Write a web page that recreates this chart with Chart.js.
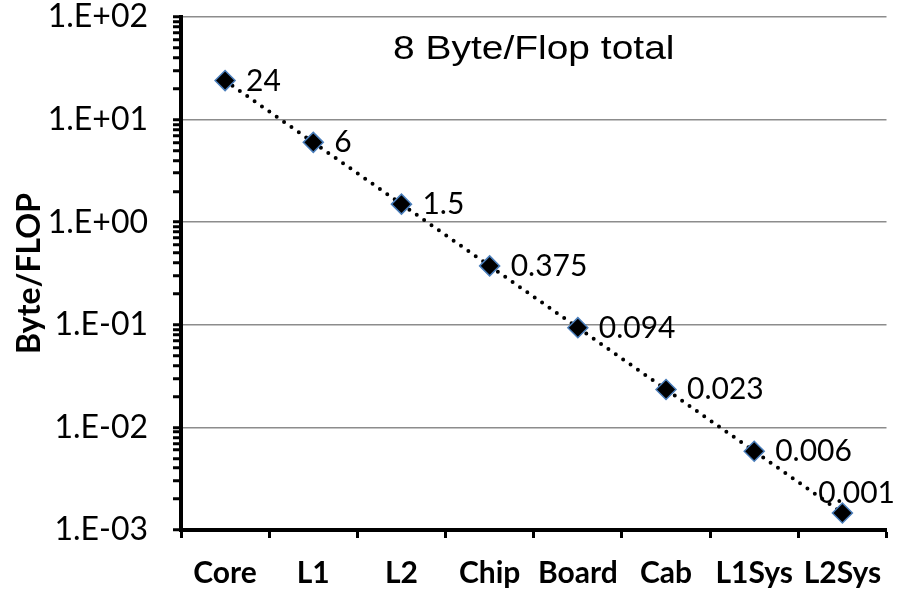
<!DOCTYPE html>
<html>
<head>
<meta charset="utf-8">
<script src="https://cdn.jsdelivr.net/npm/chart.js@4.4.1/dist/chart.umd.min.js"></script>
<style>
  html, body { margin: 0; padding: 0; background: #fff; }
  canvas { display: block; }
</style>
</head>
<body>
<canvas id="chart" width="898" height="593"></canvas>
<script>
// Memory hierarchy levels and the bandwidth available per flop at each level
const categories = ['Core', 'L1', 'L2', 'Chip', 'Board', 'Cab', 'L1Sys', 'L2Sys'];
const byteFlop = [24, 6, 1.5, 0.375, 0.09375, 0.0234375, 0.005859375, 0.00146484375];

// Decades shown on the logarithmic value axis
const decadeExponents = [-3, -2, -1, 0, 1, 2];

const chartTitle = '8 Byte/Flop total';
const yAxisTitle = 'Byte/FLOP';

function formatValue(v) {
  return v >= 1 ? String(v) : v.toFixed(3);
}

function isDecade(v) {
  const l = Math.log10(v);
  return Math.abs(l - Math.round(l)) < 1e-9;
}

function formatDecade(v) {
  const e = Math.round(Math.log10(v));
  return '1.E' + (e < 0 ? '-' : '+') + String(Math.abs(e)).padStart(2, '0');
}

// Major ticks at each decade plus minor ticks 2..9 inside it
function buildLogTicks() {
  const ticks = [];
  const lo = Math.min(...decadeExponents), hi = Math.max(...decadeExponents);
  for (let e = lo; e <= hi; e++) {
    const base = Math.pow(10, e);
    ticks.push({ value: base, major: true });
    if (e < hi) {
      for (let m = 2; m <= 9; m++) ticks.push({ value: +(m * base).toPrecision(6), major: false });
    }
  }
  return ticks;
}

// Value labels beside each marker, and the caption inside the plot
const annotate = {
  id: 'annotate',
  afterDatasetsDraw(chart) {
    const { ctx, chartArea } = chart;
    const meta = chart.getDatasetMeta(0);
    ctx.save();
    ctx.fillStyle = '#000';
    ctx.font = '30px Lato';
    ctx.textAlign = 'left';
    ctx.textBaseline = 'alphabetic';
    meta.data.forEach((pt, i) => {
      const text = formatValue(byteFlop[i]);
      const w = ctx.measureText(text).width;
      let x = pt.x + 21;
      let y = pt.y + 10;
      if (x + w > chart.width - 2) {
        x = chart.width - w - 3;
        y = pt.y - 10;
      }
      ctx.fillText(text, x, y);
    });
    // caption, set slightly wide
    ctx.font = '33px "Liberation Sans", Arial, sans-serif';
    ctx.textAlign = 'center';
    ctx.translate((chartArea.left + chartArea.right) / 2, chartArea.top + 42);
    ctx.scale(1.18, 1);
    ctx.fillText(chartTitle, 0, 0);
    ctx.restore();
  }
};

new Chart(document.getElementById('chart'), {
  type: 'line',
  data: {
    labels: categories,
    datasets: [{
      data: byteFlop,
      borderColor: '#000',
      borderWidth: 4,
      borderDash: [0, 9],
      borderCapStyle: 'round',
      tension: 0,
      fill: false,
      pointStyle: 'rectRot',
      pointRadius: 10,
      pointHoverRadius: 10,
      pointBackgroundColor: '#000',
      pointBorderColor: '#4a7ebb',
      pointBorderWidth: 1.5
    }]
  },
  options: {
    responsive: false,
    animation: false,
    events: [],
    layout: { padding: { left: 0, right: 10, top: 17, bottom: 0 } },
    plugins: {
      legend: { display: false },
      tooltip: { enabled: false }
    },
    scales: {
      x: {
        type: 'category',
        offset: true,
        afterFit(scale) {
          scale.height = 63;
          scale.paddingLeft = 0;
          scale.paddingRight = 0;
        },
        border: { display: true, color: '#000', width: 4 },
        grid: {
          display: true,
          offset: true,
          drawOnChartArea: false,
          drawTicks: true,
          tickLength: 8,
          tickWidth: 3,
          tickColor: '#000'
        },
        ticks: {
          color: '#000',
          padding: 17,
          maxRotation: 0,
          autoSkip: false,
          font: { family: 'Lato', size: 30, weight: 'bold' }
        }
      },
      y: {
        type: 'logarithmic',
        min: Math.pow(10, Math.min(...decadeExponents)),
        max: Math.pow(10, Math.max(...decadeExponents)),
        afterBuildTicks(scale) { scale.ticks = buildLogTicks(); },
        afterFit(scale) {
          scale.width = 181;
          scale.paddingTop = 0;
          scale.paddingBottom = 0;
        },
        border: { display: true, color: '#000', width: 4 },
        grid: {
          color: (c) => (c.tick && isDecade(c.tick.value)) ? '#8c8c8c' : 'rgba(0,0,0,0)',
          lineWidth: 1.5,
          drawTicks: true,
          tickLength: 8,
          tickWidth: 3,
          tickColor: '#000'
        },
        ticks: {
          color: '#000',
          padding: 25,
          autoSkip: false,
          font: { family: 'Lato', size: 32 },
          callback: (v) => isDecade(v) ? formatDecade(v) : ''
        },
        title: {
          display: true,
          text: yAxisTitle,
          color: '#000',
          padding: { top: 10, bottom: 0 },
          font: { family: 'Lato', size: 32, weight: 'bold' }
        }
      }
    }
  },
  plugins: [annotate]
});
</script>
</body>
</html>
